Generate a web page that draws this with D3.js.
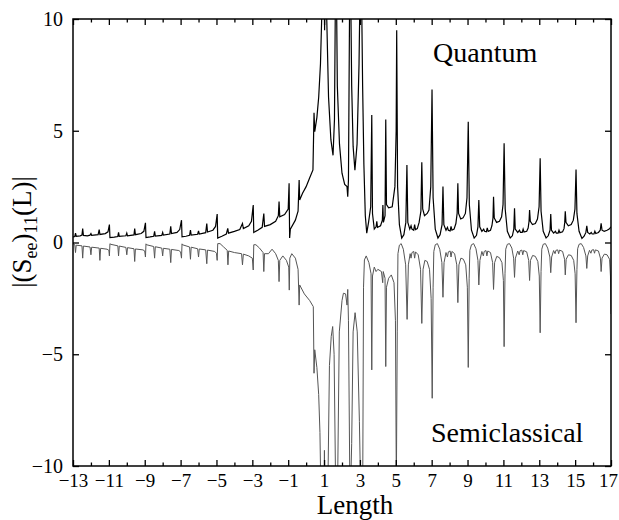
<!DOCTYPE html>
<html>
<head>
<meta charset="utf-8">
<script src="https://cdn.jsdelivr.net/npm/d3@7"></script>
<style>
  body { margin: 0; background: #fff; }
  text { font-family: "Liberation Serif", "Times New Roman", serif; }
</style>
</head>
<body>
<svg id="chart"></svg>
<script>
// tick values
const xMajorTicks = [-13, -11, -9, -7, -5, -3, -1, 1, 3, 5, 7, 9, 11, 13, 15, 17];
const xMinorTicks = [-12, -10, -8, -6, -4, -2, 0, 2, 4, 6, 8, 10, 12, 14, 16];
const yTicks = [-10, -5, 0, 5, 10];

// quantum curve, [length, value]
const quantumPts = [
  [-13.0,0.25],[-12.9,0.27],[-12.86,0.42],[-12.82,0.28],[-12.6,0.3],[-12.5,0.33],[-12.46,0.62],[-12.42,0.32],[-12.2,0.3],[-12.05,0.33],[-12.0,0.4],[-11.96,0.32],[-11.6,0.35],[-11.54,0.58],[-11.5,0.36],[-11.2,0.4],[-11.05,0.48],[-10.97,0.8],[-10.94,0.22],
  [-10.7,0.24],[-10.5,0.27],[-10.46,0.45],[-10.42,0.27],[-10.05,0.3],[-10.0,0.42],[-9.96,0.3],[-9.6,0.34],[-9.56,0.62],[-9.52,0.35],[-9.2,0.4],[-9.05,0.5],[-8.96,0.88],[-8.93,0.22],
  [-8.7,0.25],[-8.5,0.28],[-8.45,0.5],[-8.41,0.29],[-8.05,0.32],[-8.0,0.45],[-7.96,0.33],[-7.6,0.38],[-7.55,0.72],[-7.51,0.4],[-7.2,0.45],[-7.05,0.58],[-6.95,1.0],[-6.92,0.25],
  [-6.7,0.28],[-6.5,0.32],[-6.45,0.55],[-6.41,0.33],[-6.05,0.37],[-6.0,0.52],[-5.96,0.38],[-5.6,0.44],[-5.54,0.85],[-5.5,0.47],[-5.2,0.55],[-5.05,0.72],[-4.96,1.27],[-4.93,0.2],
  [-4.7,0.28],[-4.45,0.38],[-4.37,0.63],[-4.33,0.42],[-4.0,0.5],[-3.7,0.58],[-3.55,0.85],[-3.5,0.62],[-3.2,0.75],[-3.05,0.95],[-2.95,1.68],[-2.92,0.45],
  [-2.7,0.55],[-2.45,0.68],[-2.36,1.3],[-2.32,0.72],[-2.0,0.8],[-1.7,0.95],[-1.55,1.2],[-1.51,1.83],[-1.47,1.15],[-1.2,1.25],[-1.0,1.5],[-0.95,2.65],[-0.92,0.2],[-0.88,0.6],
  [-0.6,1.0],[-0.45,1.4],[-0.39,2.8],[-0.36,1.9],[-0.2,2.2],[0.0,2.5],[0.2,2.9],[0.38,3.25],[0.44,5.8],[0.48,4.96],[0.6,5.6],[0.7,6.5],[0.8,8.0],[0.9,11],[0.98,14],[1.03,9.5],[1.08,14],[1.15,10],[1.25,6.5],[1.38,4.6],[1.5,3.9],[1.58,5.5],[1.66,14],[1.74,7],[1.86,4.4],[2.0,3.1],[2.15,2.6],[2.28,2.5],[2.32,2.05],[2.36,2.8],[2.45,14],[2.54,7],[2.62,4.3],[2.72,3.24],[2.84,4.4],[2.95,8],[3.05,14],[3.15,7],[3.22,3.5],[3.3,1.2],[3.38,0.42],
  [3.48,0.9],[3.6,1.6],[3.66,5.7],[3.7,1.3],[3.8,0.6],[3.9,0.7],[3.94,0.95],[3.98,0.68],[4.15,0.75],[4.25,1.0],[4.28,1.68],[4.31,0.9],[4.4,1.2],[4.44,5.5],[4.48,1.7],[4.6,1.55],[4.8,1.6],[4.95,2.5],[5.02,5],[5.05,9.5],[5.1,2.5],[5.2,0.8],[5.33,0.2],
  [5.45,0.35],[5.56,0.9],[5.62,3.47],[5.67,0.9],[5.78,0.6],[5.85,0.75],[5.9,0.6],[6.0,0.55],[6.05,0.8],[6.1,0.58],[6.2,0.62],[6.3,0.9],[6.4,1.4],[6.45,3.59],[6.5,1.5],[6.6,1.2],[6.75,1.3],[6.85,1.45],[6.95,2.5],[7.02,6.85],[7.08,2.0],[7.2,0.6],[7.35,0.2],
  [7.47,0.35],[7.58,0.8],[7.63,2.5],[7.68,0.8],[7.8,0.55],[7.88,0.68],[7.93,0.55],[8.03,0.52],[8.08,0.72],[8.13,0.55],[8.25,0.6],[8.35,0.85],[8.42,1.3],[8.46,2.65],[8.5,1.3],[8.62,1.05],[8.75,1.1],[8.88,1.3],[8.97,2.0],[9.04,5.4],[9.1,1.7],[9.22,0.55],[9.37,0.2],
  [9.5,0.32],[9.58,0.7],[9.63,1.9],[9.68,0.7],[9.8,0.5],[9.9,0.6],[9.95,0.5],[10.05,0.48],[10.1,0.65],[10.15,0.5],[10.28,0.55],[10.36,0.75],[10.42,1.1],[10.45,2.05],[10.49,1.1],[10.62,0.9],[10.78,0.95],[10.9,1.15],[10.98,1.7],[11.04,4.44],[11.1,1.5],[11.22,0.5],[11.38,0.2],
  [11.5,0.3],[11.58,0.6],[11.62,1.53],[11.66,0.6],[11.8,0.45],[11.9,0.55],[11.95,0.45],[12.05,0.45],[12.1,0.6],[12.15,0.47],[12.3,0.5],[12.38,0.65],[12.43,0.95],[12.46,1.45],[12.5,0.95],[12.62,0.8],[12.78,0.85],[12.9,1.05],[12.99,1.6],[13.05,3.77],[13.1,1.4],[13.22,0.5],[13.38,0.2],
  [13.5,0.3],[13.6,0.55],[13.64,1.27],[13.68,0.55],[13.8,0.42],[13.9,0.5],[13.95,0.42],[14.05,0.42],[14.1,0.55],[14.15,0.44],[14.3,0.48],[14.38,0.62],[14.42,0.9],[14.45,1.4],[14.49,0.9],[14.62,0.75],[14.78,0.8],[14.9,1.0],[14.99,1.5],[15.05,3.27],[15.1,1.3],[15.22,0.5],[15.38,0.18],
  [15.5,0.28],[15.6,0.45],[15.65,0.75],[15.7,0.45],[15.82,0.38],[15.9,0.45],[15.95,0.38],[16.05,0.38],[16.1,0.5],[16.15,0.4],[16.3,0.45],[16.4,0.55],[16.45,0.86],[16.5,0.55],[16.62,0.5],[16.78,0.55],[16.9,0.6],[17.0,0.7]
];

// semiclassical curve, [length, value]
const semiPts = [
  [-13.0,-0.05],[-12.9,-0.1],[-12.86,-0.45],[-12.82,-0.12],[-12.5,-0.15],[-12.46,-0.7],[-12.42,-0.16],[-12.05,-0.2],[-12.0,-0.55],[-11.96,-0.21],[-11.54,-0.25],[-11.5,-0.8],[-11.46,-0.26],[-11.1,-0.3],[-11.0,-0.35],[-10.97,-0.6],[-10.94,-0.05],
  [-10.9,-0.08],[-10.5,-0.15],[-10.46,-0.6],[-10.42,-0.16],[-10.05,-0.22],[-10.0,-0.55],[-9.96,-0.23],[-9.6,-0.28],[-9.56,-0.85],[-9.52,-0.29],[-9.1,-0.33],[-9.0,-0.38],[-8.96,-0.65],[-8.93,-0.06],
  [-8.9,-0.1],[-8.5,-0.18],[-8.45,-0.7],[-8.41,-0.19],[-8.05,-0.25],[-8.0,-0.6],[-7.96,-0.26],[-7.6,-0.3],[-7.55,-0.9],[-7.51,-0.31],[-7.1,-0.36],[-7.0,-0.42],[-6.95,-0.7],[-6.92,-0.06],
  [-6.9,-0.1],[-6.5,-0.2],[-6.45,-0.75],[-6.41,-0.21],[-6.05,-0.28],[-6.0,-0.65],[-5.96,-0.29],[-5.6,-0.33],[-5.54,-0.95],[-5.5,-0.34],[-5.1,-0.4],[-5.0,-0.48],[-4.96,-0.8],[-4.93,-0.05],
  [-4.8,-0.05],[-4.6,-0.2],[-4.4,-0.35],[-4.36,-1.0],[-4.32,-0.38],[-4.0,-0.45],[-3.6,-0.5],[-3.55,-1.0],[-3.5,-0.52],[-3.2,-0.6],[-3.0,-0.7],[-2.95,-1.23],[-2.92,-0.1],[-2.8,-0.1],[-2.6,-0.25],[-2.4,-0.45],[-2.36,-1.3],[-2.32,-0.5],[-2.1,-0.5],[-1.9,-0.3],[-1.7,-0.5],[-1.55,-0.8],[-1.51,-1.75],[-1.47,-0.8],[-1.3,-0.6],[-1.1,-0.8],[-0.97,-1.1],[-0.94,-2.13],[-0.91,-0.7],[-0.8,-0.5],[-0.6,-0.7],[-0.45,-1.2],[-0.39,-2.8],[-0.36,-1.9],
  [-0.1,-2.3],[0.2,-2.6],[0.4,-2.87],[0.44,-5.85],[0.48,-4.8],[0.6,-5.6],[0.7,-6.8],[0.77,-8.5],[0.82,-11],[0.98,-14],[1.02,-9.3],[1.06,-14],[1.22,-10.5],[1.3,-5.5],[1.4,-4.2],[1.48,-3.76],[1.56,-5],[1.66,-12],[1.76,-10.5],[1.85,-4],[2.0,-2.6],[2.08,-2.27],[2.2,-2.3],[2.28,-2.8],[2.32,-2.1],[2.36,-3.5],[2.45,-12],[2.54,-9],[2.62,-4],[2.73,-3.14],[2.85,-4],[2.97,-8],[3.06,-12],[3.16,-10],[3.2,-2],[3.25,-0.78],
  [3.35,-0.6],[3.5,-0.9],[3.62,-1.4],[3.66,-5.7],[3.7,-1.5],[3.8,-1.1],[3.9,-1.3],[4.0,-1.2],[4.2,-1.3],[4.27,-1.8],[4.3,-1.3],[4.4,-1.6],[4.44,-5.55],[4.48,-2.0],[4.6,-1.6],[4.75,-1.45],[4.9,-1.8],[4.98,-3.5],[5.03,-11],
  [5.08,-4],[5.12,-0.5],[5.2,-0.12],[5.3,-0.05],[5.42,-0.3],[5.55,-1.0],[5.63,-3.44],[5.7,-1.0],[5.8,-0.5],[5.85,-0.7],[5.9,-0.45],[6.0,-0.4],[6.05,-0.7],[6.1,-0.42],[6.25,-0.55],[6.38,-1.2],[6.45,-3.62],[6.52,-1.2],[6.62,-0.8],[6.75,-0.85],[6.88,-1.2],[6.97,-2.5],[7.03,-6.97],
  [7.08,-2],[7.12,-0.4],[7.2,-0.1],[7.32,-0.05],[7.45,-0.3],[7.57,-0.9],[7.63,-2.45],[7.69,-0.9],[7.8,-0.45],[7.88,-0.65],[7.93,-0.42],[8.03,-0.38],[8.08,-0.65],[8.13,-0.4],[8.28,-0.5],[8.4,-1.0],[8.46,-2.69],[8.52,-1.0],[8.63,-0.7],[8.77,-0.75],[8.9,-1.0],[8.99,-2.0],[9.04,-5.59],
  [9.09,-1.6],[9.13,-0.35],[9.22,-0.1],[9.34,-0.05],[9.47,-0.28],[9.58,-0.8],[9.63,-1.9],[9.69,-0.8],[9.8,-0.4],[9.88,-0.6],[9.93,-0.4],[10.03,-0.36],[10.08,-0.6],[10.13,-0.38],[10.28,-0.45],[10.4,-0.9],[10.45,-2.1],[10.51,-0.9],[10.63,-0.62],[10.78,-0.68],[10.92,-0.9],[11.0,-1.7],[11.04,-4.66],
  [11.09,-1.4],[11.13,-0.3],[11.22,-0.08],[11.34,-0.05],[11.47,-0.25],[11.57,-0.7],[11.62,-1.56],[11.67,-0.7],[11.8,-0.38],[11.88,-0.55],[11.93,-0.37],[12.03,-0.34],[12.08,-0.55],[12.13,-0.36],[12.3,-0.42],[12.41,-0.8],[12.46,-1.7],[12.51,-0.8],[12.63,-0.58],[12.78,-0.62],[12.92,-0.85],[13.0,-1.5],[13.05,-4.04],
  [13.1,-1.3],[13.14,-0.3],[13.22,-0.08],[13.34,-0.05],[13.47,-0.25],[13.59,-0.65],[13.64,-1.35],[13.69,-0.65],[13.8,-0.36],[13.88,-0.5],[13.93,-0.35],[14.03,-0.33],[14.08,-0.5],[14.13,-0.34],[14.3,-0.4],[14.41,-0.75],[14.45,-1.45],[14.5,-0.75],[14.63,-0.55],[14.78,-0.58],[14.92,-0.8],[15.0,-1.4],[15.05,-3.59],
  [15.1,-1.2],[15.14,-0.28],[15.22,-0.08],[15.34,-0.05],[15.47,-0.22],[15.6,-0.6],[15.65,-1.16],[15.7,-0.6],[15.8,-0.35],[15.88,-0.48],[15.93,-0.34],[16.03,-0.32],[16.08,-0.48],[16.13,-0.33],[16.3,-0.38],[16.41,-0.7],[16.45,-1.3],[16.5,-0.7],[16.63,-0.52],[16.78,-0.55],[16.92,-0.75],[16.97,-1.5],[17.0,-3.2]
];

const W = 619, H = 520;
const plot = { left: 73, right: 611, top: 19, bottom: 466 };

const svg = d3.select("#chart")
    .attr("width", W)
    .attr("height", H);

const x = d3.scaleLinear().domain([-13, 17]).range([plot.left, plot.right]);
const y = d3.scaleLinear().domain([-10, 10]).range([plot.bottom, plot.top]);

svg.append("clipPath")
    .attr("id", "clip")
  .append("rect")
    .attr("x", plot.left)
    .attr("y", plot.top)
    .attr("width", plot.right - plot.left)
    .attr("height", plot.bottom - plot.top);

const line = d3.line()
    .x(d => x(d[0]))
    .y(d => y(d[1]));

const curves = svg.append("g").attr("clip-path", "url(#clip)");

curves.append("path")
    .datum(semiPts)
    .attr("fill", "none")
    .attr("stroke", "#555")
    .attr("stroke-width", 1)
    .attr("d", line);

curves.append("path")
    .datum(quantumPts)
    .attr("fill", "none")
    .attr("stroke", "#000")
    .attr("stroke-width", 1.2)
    .attr("d", line);

// axes, ticks pointing inward on all four sides
const fmt = d => d3.format("d")(d).replace("-", "\u2212");

const bottomAxis = svg.append("g")
    .attr("transform", `translate(0,${plot.bottom})`)
    .call(d3.axisBottom(x).tickValues(xMajorTicks).tickSize(-6).tickSizeOuter(0).tickPadding(8).tickFormat(fmt));
svg.append("g")
    .attr("transform", `translate(0,${plot.bottom})`)
    .call(d3.axisBottom(x).tickValues(xMinorTicks).tickSize(-3.5).tickSizeOuter(0).tickFormat(""));
svg.append("g")
    .attr("transform", `translate(0,${plot.top})`)
    .call(d3.axisTop(x).tickValues(xMajorTicks).tickSize(-6).tickSizeOuter(0).tickFormat(""));
svg.append("g")
    .attr("transform", `translate(0,${plot.top})`)
    .call(d3.axisTop(x).tickValues(xMinorTicks).tickSize(-3.5).tickSizeOuter(0).tickFormat(""));
const leftAxis = svg.append("g")
    .attr("transform", `translate(${plot.left},0)`)
    .call(d3.axisLeft(y).tickValues(yTicks).tickSize(-6).tickSizeOuter(0).tickPadding(10).tickFormat(fmt));
svg.append("g")
    .attr("transform", `translate(${plot.right},0)`)
    .call(d3.axisRight(y).tickValues(yTicks).tickSize(-6).tickSizeOuter(0).tickFormat(""));

svg.selectAll(".domain").remove();
svg.selectAll(".tick line").attr("stroke", "#000").attr("stroke-width", 1.3);
svg.selectAll(".tick text")
    .attr("font-family", "Liberation Serif, Times New Roman, serif")
    .attr("fill", "#000");
leftAxis.selectAll(".tick text").attr("font-size", 20);
bottomAxis.selectAll(".tick text").attr("font-size", 19);
// last label sits a little inside the right edge, as in the original
bottomAxis.selectAll(".tick text").filter(d => d === 17).attr("dx", -3);

svg.append("rect")
    .attr("x", plot.left)
    .attr("y", plot.top)
    .attr("width", plot.right - plot.left)
    .attr("height", plot.bottom - plot.top)
    .attr("fill", "none")
    .attr("stroke", "#000")
    .attr("stroke-width", 1.5);

// labels
svg.append("text")
    .attr("x", 355)
    .attr("y", 514)
    .attr("text-anchor", "middle")
    .attr("font-size", 27)
    .text("Length");

const yLab = svg.append("text")
    .attr("transform", "translate(31,232) rotate(-90)")
    .attr("text-anchor", "middle")
    .attr("font-size", 27);
yLab.append("tspan").text("|(S");
yLab.append("tspan").attr("font-size", 18).attr("dy", 6).text("ee");
yLab.append("tspan").attr("dy", -6).text(")");
yLab.append("tspan").attr("font-size", 18).attr("dy", 6).text("11");
yLab.append("tspan").attr("dy", -6).text("(L)|");

svg.append("text")
    .attr("x", 433)
    .attr("y", 62)
    .attr("font-size", 28)
    .text("Quantum");

svg.append("text")
    .attr("x", 431)
    .attr("y", 442)
    .attr("font-size", 28)
    .text("Semiclassical");
</script>
</body>
</html>
